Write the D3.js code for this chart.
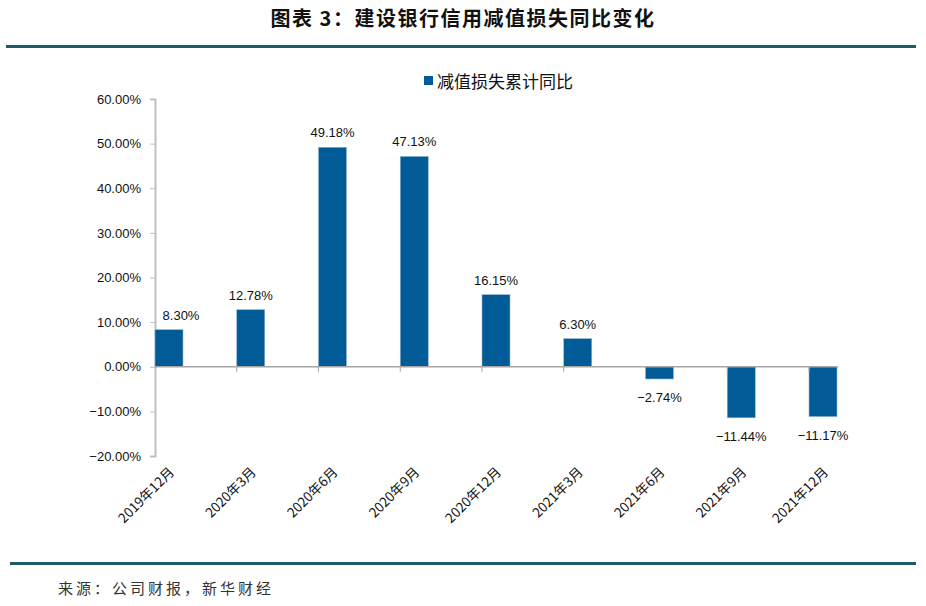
<!DOCTYPE html>
<html>
<head>
<meta charset="utf-8">
<script src="https://cdn.jsdelivr.net/npm/d3@7"></script>
<style>
  body { margin: 0; background: #fff; }
  text { font-family: "Noto Sans CJK SC", "Liberation Sans", sans-serif; }
</style>
</head>
<body>
<div class="canvas"></div>
<script>
const categories = ["2019年12月", "2020年3月", "2020年6月", "2020年9月", "2020年12月",
  "2021年3月", "2021年6月", "2021年9月", "2021年12月"]
const values = [8.30, 12.78, 49.18, 47.13, 16.15, 6.30, -2.74, -11.44, -11.17]
const yTicks = [60, 50, 40, 30, 20, 10, 0, -10, -20]
const seriesName = "减值损失累计同比"
const title = "图表 3：建设银行信用减值损失同比变化"
const source = "来源：公司财报，新华财经"

const svg = d3.select(".canvas")
  .append("svg")
  .attr("width", 926)
  .attr("height", 606)

// title + rules
svg.append("text")
  .attr("x", 463).attr("y", 26)
  .attr("text-anchor", "middle")
  .style("font-size", "20px")
  .style("font-weight", "bold")
  .style("letter-spacing", "1.5px")
  .attr("fill", "#111")
  .text(title)
svg.append("rect").attr("x", 6).attr("y", 45).attr("width", 910).attr("height", 3).attr("fill", "#1f5a68")
svg.append("rect").attr("x", 10).attr("y", 562).attr("width", 906).attr("height", 3).attr("fill", "#1f5a68")
svg.append("text")
  .attr("x", 58).attr("y", 594)
  .style("font-size", "15px")
  .style("letter-spacing", "3px")
  .attr("fill", "#333")
  .text(source)

let x = d3.scaleBand().domain(categories).range([155, 155 + 9 * 81.75])
let y = d3.scaleLinear().domain([-20, 60]).range([456, 99])
const barW = 28

// y axis
let yAxis = svg.append("g")
  .attr("transform", "translate(155,0)")
  .call(d3.axisLeft(y).tickValues(yTicks).tickSize(5).tickFormat(d => d3.format(".2f")(d) + "%"))
yAxis.select(".domain").attr("stroke", "#bfbfbf").attr("stroke-width", 2)
yAxis.selectAll(".tick line").attr("stroke", "#bfbfbf")
yAxis.selectAll(".tick text")
  .attr("x", -14)
  .style("font-size", "13px")
  .style("font-family", "'Liberation Sans', sans-serif")
  .attr("fill", "#111")

// bars
svg.append("g")
  .selectAll("rect")
  .data(values)
  .enter()
  .append("rect")
  .attr("x", (d, i) => x(categories[i]))
  .attr("y", d => y(Math.max(0, d)))
  .attr("width", barW)
  .attr("height", d => Math.abs(y(d) - y(0)))
  .attr("fill", "#005b96")
  .attr("stroke", "#8fb4d0")
  .attr("stroke-width", 0.6)

// zero axis line and ticks
svg.append("line")
  .attr("x1", 155).attr("x2", x(categories[8]) + barW + 1)
  .attr("y1", y(0)).attr("y2", y(0))
  .attr("stroke", "#a6a6a6").attr("stroke-width", 1.5)
svg.append("g")
  .selectAll("line")
  .data(categories.slice(1))
  .enter()
  .append("line")
  .attr("x1", d => x(d)).attr("x2", d => x(d))
  .attr("y1", y(0)).attr("y2", y(0) + 5)
  .attr("stroke", "#a6a6a6")

// value labels
svg.append("g")
  .selectAll("text")
  .data(values)
  .enter()
  .append("text")
  .attr("x", (d, i) => x(categories[i]) + barW / 2 + (i == 0 ? 12 : 0))
  .attr("y", d => d >= 0 ? y(d) - 10 : y(d) + 23)
  .attr("text-anchor", "middle")
  .style("font-size", "13px")
  .style("font-family", "'Liberation Sans', sans-serif")
  .attr("fill", "#111")
  .text(d => (d < 0 ? "−" + d3.format(".2f")(-d) : d3.format(".2f")(d)) + "%")

// category labels
svg.append("g")
  .selectAll("text")
  .data(categories)
  .enter()
  .append("text")
  .attr("transform", d => "translate(" + (x(d) + barW / 2 + 6) + ",473) rotate(-45)")
  .attr("text-anchor", "end")
  .style("font-size", "13.5px")
  .attr("fill", "#111")
  .text(d => d)

// legend
svg.append("rect")
  .attr("x", 424).attr("y", 76).attr("width", 9).attr("height", 9)
  .attr("fill", "#005b96")
svg.append("text")
  .attr("x", 437).attr("y", 88)
  .style("font-size", "17px")
  .attr("fill", "#111")
  .text(seriesName)
</script>
</body>
</html>
